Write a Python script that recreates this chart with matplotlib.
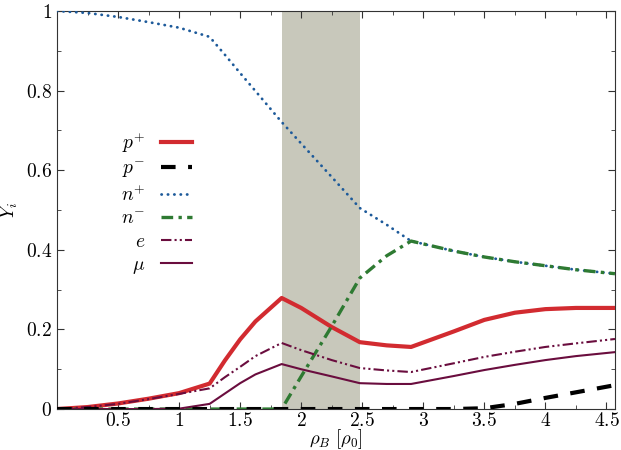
import numpy as np
import matplotlib
matplotlib.use('Agg')
import matplotlib.pyplot as plt
from matplotlib.ticker import MultipleLocator, FuncFormatter

plt.rcParams['mathtext.fontset'] = 'cm'
plt.rcParams['font.family'] = ['DejaVu Serif']

# baryon density grid [rho_0]
rho = [0.0, 0.25, 0.5, 0.75, 1.0, 1.25, 1.375, 1.5, 1.625, 1.84, 2.0, 2.25, 2.48,
       2.7, 2.9, 3.25, 3.5, 3.75, 4.0, 4.25, 4.57]

# particle fractions
y_p_plus = [0.0, 0.005, 0.014, 0.026, 0.040, 0.064, 0.122, 0.175, 0.220, 0.279,
            0.254, 0.206, 0.168, 0.160, 0.156, 0.195, 0.224, 0.242, 0.251, 0.254, 0.254]
y_p_minus = [0.0, 0.0, 0.0, 0.0, 0.0, 0.0, 0.0, 0.0, 0.0, 0.0,
             0.0, 0.0, 0.0, 0.0, 0.0, 0.0, 0.002, 0.013, 0.028, 0.042, 0.060]
y_n_plus = [1.0, 0.995, 0.985, 0.972, 0.958, 0.935, 0.890, 0.844, 0.799, 0.721,
            0.667, 0.583, 0.505, 0.463, 0.422, 0.397, 0.382, 0.370, 0.360, 0.350, 0.340]
y_n_minus = [0.0, 0.0, 0.0, 0.0, 0.0, 0.0, 0.0, 0.0, 0.0, 0.0,
             0.082, 0.208, 0.329, 0.385, 0.422, 0.397, 0.382, 0.370, 0.360, 0.350, 0.340]
y_e = [0.0, 0.005, 0.013, 0.025, 0.038, 0.052, 0.080, 0.106, 0.133, 0.166,
       0.148, 0.123, 0.103, 0.097, 0.093, 0.115, 0.131, 0.144, 0.156, 0.165, 0.176]
y_mu = [0.0, 0.0, 0.0, 0.0, 0.001, 0.013, 0.039, 0.065, 0.087, 0.113,
        0.100, 0.082, 0.065, 0.063, 0.063, 0.083, 0.098, 0.111, 0.123, 0.133, 0.143]

# mixed phase region
mixed = (1.84, 2.48)

fig = plt.figure(figsize=(6.21, 4.5), dpi=100)
ax = fig.add_axes([0.0918, 0.091, 0.8985, 0.8846])

ax.axvspan(mixed[0], mixed[1], color='#c8c8bb', lw=0, zorder=0)

maroon = '#6a0d3e'
ax.plot(rho, y_p_plus, color='#d22b30', lw=3.0, label=r'$p^{+}$', zorder=3)
ax.plot(rho, y_p_minus, color='black', lw=3.0, ls=(0, (3.5, 3.0)), label=r'$p^{-}$', zorder=4)
ax.plot(rho, y_n_plus, color='#1d5a9a', lw=2.0, ls=(0, (0.1, 2.2)),
        dash_capstyle='round', label=r'$n^{+}$', zorder=3)
ax.plot(rho, y_n_minus, color='#2e7a32', lw=2.4, ls=(0, (3.5, 1.6, 1.0, 1.6)),
        label=r'$n^{-}$', zorder=3)
ax.plot(rho, y_e, color=maroon, lw=1.5, ls=(0, (5, 1.5, 1, 1.5, 1, 1.5)),
        label=r'$e$', zorder=3)
ax.plot(rho, y_mu, color=maroon, lw=1.5, label=r'$\mu$', zorder=3)

ax.set_xlim(0.0, 4.57)
ax.set_ylim(0, 1)
ax.set_xticks([0.5, 1, 1.5, 2, 2.5, 3, 3.5, 4, 4.5])
ax.xaxis.set_minor_locator(MultipleLocator(0.25))
ax.yaxis.set_major_locator(MultipleLocator(0.2))
ax.yaxis.set_minor_locator(MultipleLocator(0.1))
fmt = FuncFormatter(lambda v, p: r'$%g$' % round(v, 2))
ax.xaxis.set_major_formatter(fmt)
ax.yaxis.set_major_formatter(fmt)
ax.tick_params(which='both', direction='in', top=True, right=True,
               labelsize=14, color='#333333')
ax.tick_params(axis='x', pad=2)
ax.tick_params(which='major', length=5)
ax.tick_params(which='minor', length=3)
for s in ax.spines.values():
    s.set_color('#333333')

ax.set_xlabel(r'$\rho_B\ [\rho_0]$', fontsize=13.5, labelpad=-2)
ax.set_ylabel(r'$Y_i$', fontsize=14, labelpad=4)

leg = ax.legend(loc='upper left', bbox_to_anchor=(0.1, 0.72), frameon=False,
                markerfirst=False, fontsize=14, handlelength=1.6,
                labelspacing=0.25, handletextpad=0.8, borderaxespad=0)
for t in leg.get_texts():
    t.set_ha('right')

fig.savefig('out.png', dpi=100)
